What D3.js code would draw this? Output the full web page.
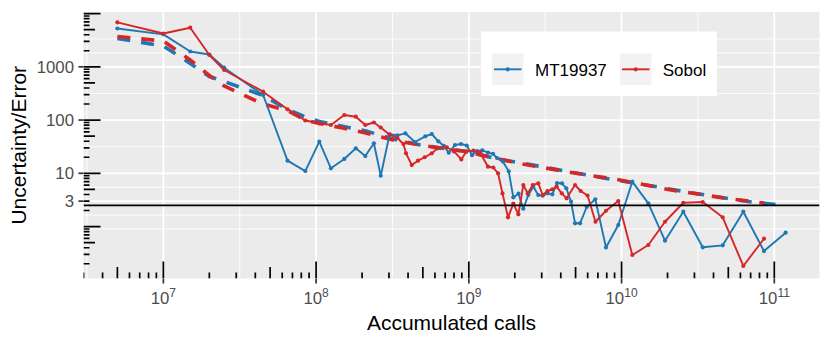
<!DOCTYPE html>
<html>
<head>
<meta charset="utf-8">
<script src="https://cdn.jsdelivr.net/npm/d3@7"></script>
<style>
  body { margin: 0; background: #fff; }
  svg { display: block; font-family: "Liberation Sans", Arial, Helvetica, sans-serif; }
</style>
</head>
<body>
<div id="chart"></div>
<script>
// MT19937 run: accumulated calls vs. error
const mtCalls = [5e6, 1e7, 1.5e7, 2e7, 2.5e7, 4.5e7, 6.5e7, 8.5e7, 1.05e8, 1.25e8,
    1.53e8, 1.82e8, 2.1e8, 2.39e8, 2.65e8, 3.03e8, 3.41e8, 3.84e8, 4.44e8, 5.19e8,
    5.72e8, 6.31e8, 6.85e8, 7.39e8, 8.12e8, 8.89e8, 9.69e8, 1.05e9, 1.13e9, 1.226e9,
    1.336e9, 1.44e9, 1.53e9, 1.67e9, 1.825e9, 1.956e9, 2.116e9, 2.274e9, 2.452e9, 2.644e9,
    2.85e9, 3.045e9, 3.285e9, 3.52e9, 3.78e9, 4.075e9, 4.35e9, 4.67e9, 4.96e9, 5.35e9,
    5.91e9, 6.73e9, 7.91e9, 9.52e9, 1.176e10, 1.497e10, 1.925e10, 2.537e10, 3.40e10, 4.595e10,
    6.27e10, 8.56e10, 1.187e11];
const mtError = [5240, 4070, 1937, 1702, 962, 295, 17.3, 11.0, 39.2, 12.4,
    18.6, 29.5, 21.1, 36.6, 9.0, 54.0, 51.7, 56.4, 38.7, 49.5,
    54.7, 39.9, 32.8, 24.4, 34.0, 35.5, 33.3, 21.9, 26.2, 27.0,
    24.4, 23.2, 19.4, 16.7, 10.9, 3.54, 4.14, 2.16, 3.91, 5.60,
    3.91, 3.80, 4.21, 4.03, 6.57, 6.49, 5.23, 2.93, 1.15, 1.15,
    2.33, 3.25, 0.404, 1.07, 6.96, 2.73, 0.542, 1.90, 0.408, 0.444,
    1.90, 0.347, 0.766];

// Sobol run
const sobolCalls = [5e6, 1e7, 1.5e7, 2e7, 2.5e7, 4.5e7, 6.5e7, 8.5e7, 1.05e8, 1.25e8,
    1.53e8, 1.82e8, 2.1e8, 2.39e8, 2.65e8, 3.03e8, 3.41e8, 3.73e8, 3.88e8, 4.23e8,
    4.65e8, 5.14e8, 5.72e8, 6.24e8, 7.17e8, 8.0e8, 8.93e8, 9.63e8, 1.07e9, 1.184e9,
    1.336e9, 1.447e9, 1.554e9, 1.662e9, 1.806e9, 1.956e9, 2.11e9, 2.274e9, 2.43e9, 2.62e9,
    2.85e9, 3.045e9, 3.27e9, 3.52e9, 3.76e9, 4.06e9, 4.37e9, 4.96e9, 5.40e9, 5.99e9,
    6.75e9, 7.91e9, 9.52e9, 1.176e10, 1.497e10, 1.925e10, 2.537e10, 3.40e10, 4.595e10, 6.27e10,
    8.56e10];
const sobolError = [6850, 4222, 5424, 1666, 871, 341, 159, 98.1, 86.9, 80.7,
    124.4, 115.6, 80.7, 89.9, 72.5, 53.1, 46.0, 35.5, 23.7, 14.3,
    17.3, 20.0, 23.7, 29.5, 30.8, 25.7, 18.2, 25.7, 26.6, 24.4,
    13.3, 12.85, 10.0, 4.18, 1.49, 2.69, 1.70, 6.03, 4.21, 6.03,
    6.49, 3.91, 4.65, 5.01, 5.60, 4.21, 3.39, 6.03, 4.65, 3.83,
    1.23, 1.98, 3.02, 0.292, 0.450, 1.23, 2.80, 2.89, 1.49, 0.182,
    0.591];

// estimated uncertainty (dashed lines)
const mtUncCalls = [5e6, 1e7, 1.5e7, 2e7, 2.5e7, 4.5e7, 6.5e7, 8.5e7, 1.05e8, 2.12e8,
    3.19e8, 4.79e8, 9.59e8, 1.484e9, 2.97e9, 6.70e9, 1.445e10, 3.07e10, 6.73e10, 1.187e11];
const mtUnc = [3401, 2458, 1153, 657, 530, 289, 158, 114, 93.9, 62.3,
    44.1, 34.0, 25.7, 19.0, 13.4, 8.71, 6.03, 4.18, 2.95, 2.48];
const sobolUncCalls = [5e6, 1e7, 1.5e7, 2e7, 2.5e7, 4.5e7, 6.5e7, 8.5e7, 1.05e8, 1.5e8,
    2.12e8, 3.19e8, 4.79e8, 6.99e8, 9.59e8, 2.07e9, 4.46e9, 9.77e9, 2.107e10, 4.685e10, 8.56e10];
const sobolUnc = [3707, 3051, 1342, 686, 436, 200, 151, 100, 86.1, 70.9,
    57.1, 42.2, 34.0, 28.6, 25.7, 15.6, 10.6, 7.48, 4.86, 3.44, 2.77];

const xBreaks = [1e7, 1e8, 1e9, 1e10, 1e11];
const yBreaks = [3, 10, 100, 1000];
const threshold = 2.5;
const seriesNames = ['MT19937', 'Sobol'];
const seriesColors = ['#1f77b4', '#d62728'];

const W = 830, H = 346;
const panel = { x0: 83.5, x1: 819.5, y0: 12, y1: 278.5 };

const svg = d3.select('#chart').append('svg')
    .attr('width', W)
    .attr('height', H);

const x = d3.scaleLog().domain([3.0e6, 1.977e11]).range([panel.x0, panel.x1]);
const y = d3.scaleLog().domain([0.1058, 10693]).range([panel.y1, panel.y0]);

svg.append('clipPath').attr('id', 'clip')
    .append('rect')
    .attr('x', panel.x0).attr('y', panel.y0)
    .attr('width', panel.x1 - panel.x0).attr('height', panel.y1 - panel.y0);

// Panel background
svg.append('rect')
    .attr('x', panel.x0).attr('y', panel.y0)
    .attr('width', panel.x1 - panel.x0).attr('height', panel.y1 - panel.y0)
    .attr('fill', '#ebebeb');

// Minor breaks like ggplot: midpoints between majors (in log space), extended by one step
function minorBreaks(majors, domain) {
    let b = majors.map(Math.log10);
    const bd = b[1] - b[0];
    const lo = Math.log10(domain[0]), hi = Math.log10(domain[1]);
    if (lo < b[0]) b = [b[0] - bd, ...b];
    if (hi > b[b.length - 1]) b = [...b, b[b.length - 1] + bd];
    const out = [];
    for (let i = 0; i < b.length - 1; i++) {
        out.push(b[i], (b[i] + b[i + 1]) / 2);
    }
    out.push(b[b.length - 1]);
    return out
        .filter(v => v >= lo && v <= hi)
        .filter(v => !b.slice(0).some(m => majors.map(Math.log10).some(mm => Math.abs(mm - v) < 1e-9)))
        .map(v => Math.pow(10, v));
}

const grid = svg.append('g').attr('clip-path', 'url(#clip)');
grid.selectAll('.xminor').data(minorBreaks(xBreaks, x.domain())).join('line')
    .attr('x1', d => x(d)).attr('x2', d => x(d))
    .attr('y1', panel.y0).attr('y2', panel.y1)
    .attr('stroke', '#fff').attr('stroke-width', 0.9);
grid.selectAll('.yminor').data(minorBreaks(yBreaks, y.domain())).join('line')
    .attr('y1', d => y(d)).attr('y2', d => y(d))
    .attr('x1', panel.x0).attr('x2', panel.x1)
    .attr('stroke', '#fff').attr('stroke-width', 0.9);
grid.selectAll('.xmajor').data(xBreaks).join('line')
    .attr('x1', d => x(d)).attr('x2', d => x(d))
    .attr('y1', panel.y0).attr('y2', panel.y1)
    .attr('stroke', '#fff').attr('stroke-width', 1.8);
grid.selectAll('.ymajor').data(yBreaks).join('line')
    .attr('y1', d => y(d)).attr('y2', d => y(d))
    .attr('x1', panel.x0).attr('x2', panel.x1)
    .attr('stroke', '#fff').attr('stroke-width', 1.8);

const plot = svg.append('g').attr('clip-path', 'url(#clip)');
const line = d3.line().x(d => x(d[0])).y(d => y(d[1]));

// dashed uncertainty curves
[[mtUncCalls, mtUnc], [sobolUncCalls, sobolUnc]].forEach((s, i) => {
    plot.append('path')
        .datum(d3.zip(s[0], s[1]))
        .attr('d', line)
        .attr('fill', 'none')
        .attr('stroke', seriesColors[i])
        .attr('stroke-width', 3.6)
        .attr('stroke-dasharray', '13,11');
});

// solid error lines with points
[[mtCalls, mtError], [sobolCalls, sobolError]].forEach((s, i) => {
    const pts = d3.zip(s[0], s[1]);
    plot.append('path')
        .datum(pts)
        .attr('d', line)
        .attr('fill', 'none')
        .attr('stroke', seriesColors[i])
        .attr('stroke-width', 1.9)
        .attr('stroke-linejoin', 'round');
    plot.append('g').selectAll('circle').data(pts).join('circle')
        .attr('cx', d => x(d[0]))
        .attr('cy', d => y(d[1]))
        .attr('r', 2.1)
        .attr('fill', seriesColors[i]);
});

// threshold line
plot.append('line')
    .attr('x1', panel.x0).attr('x2', panel.x1)
    .attr('y1', y(threshold)).attr('y2', y(threshold))
    .attr('stroke', '#000').attr('stroke-width', 1.8);

// log ticks (bottom and left)
const tickLen = m => (m === 1 ? 17 : (m === 5 ? 11.5 : 6));
const xTicks = [], yTicks = [];
for (let e = 6; e <= 11; e++) for (let m = 1; m <= 9; m++) xTicks.push({ v: m * Math.pow(10, e), m: m });
for (let e = -1; e <= 4; e++) for (let m = 1; m <= 9; m++) yTicks.push({ v: m * Math.pow(10, e), m: m });
const logticks = svg.append('g').attr('clip-path', 'url(#clip)');
logticks.selectAll('.lx').data(xTicks.filter(d => d.v >= x.domain()[0] * 0.999 && d.v <= x.domain()[1])).join('line')
    .attr('x1', d => x(d.v)).attr('x2', d => x(d.v))
    .attr('y1', panel.y1).attr('y2', d => panel.y1 - tickLen(d.m))
    .attr('stroke', '#000').attr('stroke-width', 1.7);
logticks.selectAll('.ly').data(yTicks.filter(d => d.v >= y.domain()[0] && d.v <= y.domain()[1] * 1.01)).join('line')
    .attr('y1', d => y(d.v)).attr('y2', d => y(d.v))
    .attr('x1', panel.x0).attr('x2', d => panel.x0 + tickLen(d.m))
    .attr('stroke', '#000').attr('stroke-width', 1.7);

// axis ticks
svg.append('g').selectAll('line').data(xBreaks).join('line')
    .attr('x1', d => x(d)).attr('x2', d => x(d))
    .attr('y1', panel.y1).attr('y2', panel.y1 + 5)
    .attr('stroke', '#333').attr('stroke-width', 1.7);
svg.append('g').selectAll('line').data(yBreaks).join('line')
    .attr('y1', d => y(d)).attr('y2', d => y(d))
    .attr('x1', panel.x0 - 5).attr('x2', panel.x0)
    .attr('stroke', '#333').attr('stroke-width', 1.7);

// tick labels
svg.append('g').selectAll('text').data(yBreaks).join('text')
    .attr('x', panel.x0 - 9.5)
    .attr('y', d => y(d))
    .attr('dy', '0.36em')
    .attr('text-anchor', 'end')
    .attr('font-size', 16.8)
    .attr('fill', '#4d4d4d')
    .text(d => d);
svg.append('g').selectAll('text').data(xBreaks).join('text')
    .attr('x', d => x(d))
    .attr('y', 304)
    .attr('text-anchor', 'middle')
    .attr('font-size', 16.8)
    .attr('fill', '#4d4d4d')
    .each(function(d) {
        const t = d3.select(this);
        t.append('tspan').text('10');
        t.append('tspan').attr('dy', -7.3).attr('font-size', 12).text(Math.round(Math.log10(d)));
    });

// axis titles
svg.append('text')
    .attr('x', (panel.x0 + panel.x1) / 2)
    .attr('y', 330)
    .attr('text-anchor', 'middle')
    .attr('font-size', 21)
    .attr('fill', '#000')
    .text('Accumulated calls');
svg.append('text')
    .attr('transform', `translate(26,${(panel.y0 + panel.y1) / 2}) rotate(-90)`)
    .attr('text-anchor', 'middle')
    .attr('font-size', 21)
    .attr('fill', '#000')
    .text('Uncertainty/Error');

// legend
const legend = svg.append('g');
legend.append('rect')
    .attr('x', 481).attr('y', 31.5)
    .attr('width', 236).attr('height', 64.5)
    .attr('fill', '#fff');
const keyX = [492, 620];
const textX = [535, 662.7];
seriesNames.forEach((name, i) => {
    const g = legend.append('g');
    g.append('rect')
        .attr('x', keyX[i]).attr('y', 53.5)
        .attr('width', 31.3).attr('height', 31.5)
        .attr('fill', '#f2f2f2');
    g.append('line')
        .attr('x1', keyX[i] + 2).attr('x2', keyX[i] + 29.5)
        .attr('y1', 69.3).attr('y2', 69.3)
        .attr('stroke', seriesColors[i]).attr('stroke-width', 1.9);
    g.append('circle')
        .attr('cx', keyX[i] + 15.7).attr('cy', 69.3).attr('r', 2.1)
        .attr('fill', seriesColors[i]);
    g.append('text')
        .attr('x', textX[i]).attr('y', 75.5)
        .attr('font-size', 17)
        .attr('fill', '#000')
        .text(name);
});
</script>
</body>
</html>
